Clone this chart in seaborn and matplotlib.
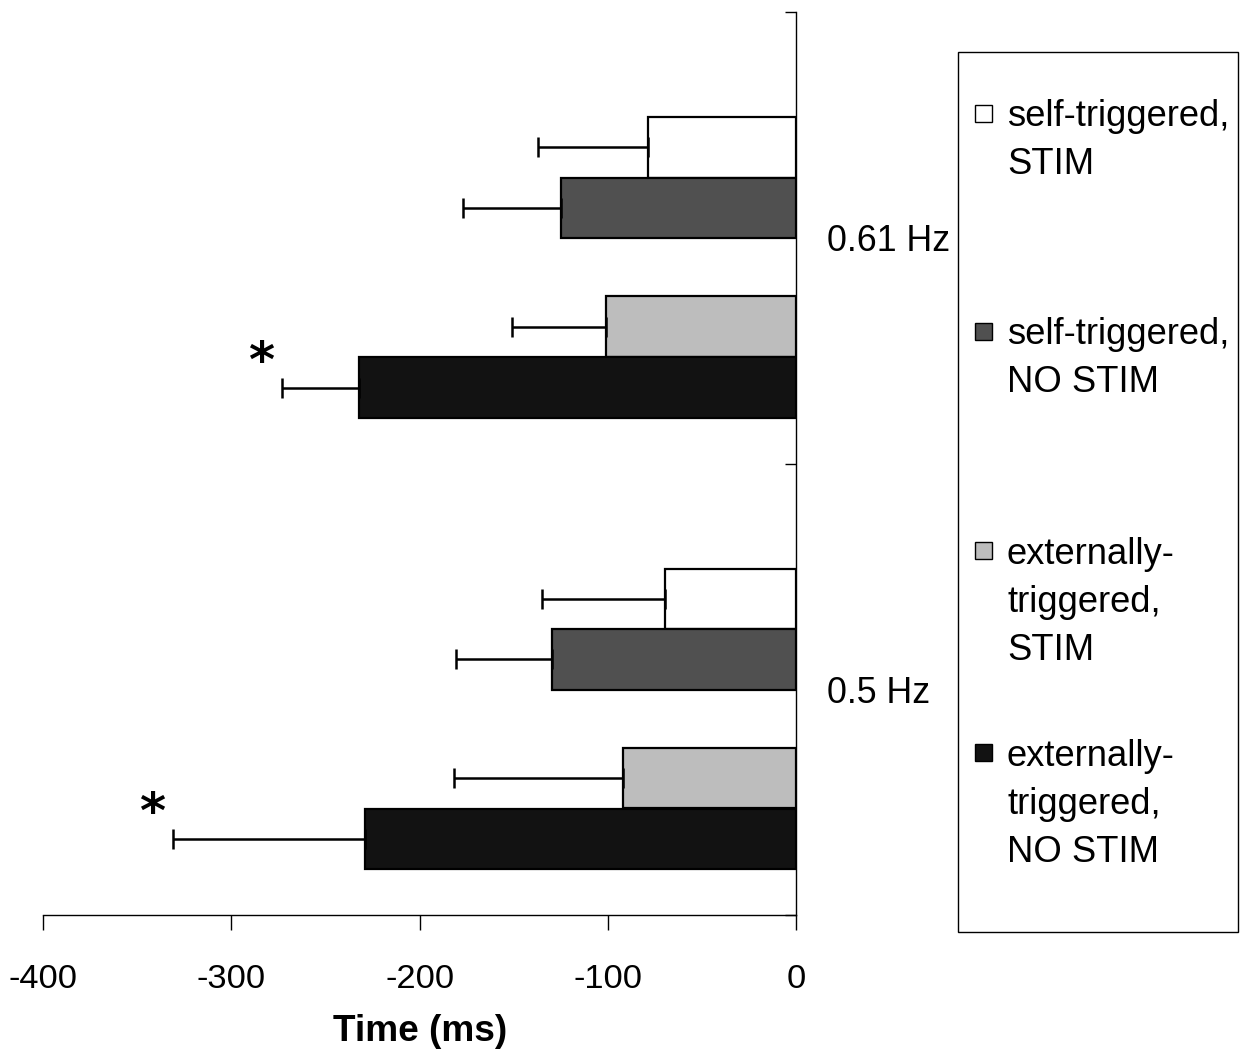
import numpy as np
import pandas as pd
import matplotlib
matplotlib.use("Agg")
import matplotlib.pyplot as plt
from matplotlib import font_manager
from matplotlib.patches import Rectangle
import seaborn as sns

# ---- data -------------------------------------------------------------
frequencies = ["0.61 Hz", "0.5 Hz"]
conditions = [
    "self-triggered, STIM",
    "self-triggered, NO STIM",
    "externally-triggered, STIM",
    "externally-triggered, NO STIM",
]
legend_labels = [
    "self-triggered,\nSTIM",
    "self-triggered,\nNO STIM",
    "externally-\ntriggered,\nSTIM",
    "externally-\ntriggered,\nNO STIM",
]
mean_061 = [-79, -125, -101, -232]
err_061 = [58, 52, 50, 41]
mean_05 = [-70, -130, -92, -229]
err_05 = [65, 51, 90, 102]
significant_061 = [False, False, False, True]
significant_05 = [False, False, False, True]
x_ticks = [-400, -300, -200, -100, 0]

# ---- styling ----------------------------------------------------------
bar_colors = ["#ffffff", "#505050", "#bdbdbd", "#121212"]
palette = dict(zip(conditions, bar_colors))
# offset of each bar inside its frequency band (band height = 1)
slot_offsets = [-0.200, -0.066, 0.197, 0.332]

sns.set_theme(style="white")
available = {f.name for f in font_manager.fontManager.ttflist}
if "Liberation Sans Narrow" in available:
    FONT, k = "Liberation Sans Narrow", 1.0
else:
    FONT, k = "Liberation Sans", 0.92
plt.rcParams["font.family"] = [FONT, "DejaVu Sans"]
plt.rcParams.update({
    "text.color": "black",
    "axes.labelcolor": "black",
    "xtick.color": "black",
    "ytick.color": "black",
})

rows = []
for g, (means, errs, sig) in enumerate(
    [(mean_061, err_061, significant_061), (mean_05, err_05, significant_05)]
):
    for c, cond in enumerate(conditions):
        rows.append(
            dict(freq=frequencies[g], condition=cond, value=means[c],
                 err=errs[c], sig=sig[c], pos=g + slot_offsets[c])
        )
df = pd.DataFrame(rows)

fig = plt.figure(figsize=(12.41, 10.57), dpi=100)
ax = fig.add_axes([0.0347, 0.1343, 0.6071, 0.8543])

sns.barplot(
    data=df, x="value", y="pos", hue="condition", hue_order=conditions,
    palette=palette, orient="h", native_scale=True, width=1.0,
    errorbar=None, edgecolor="black", linewidth=1.6, legend=False,
    saturation=1.0, ax=ax,
)

# one-sided error bars (toward more negative values)
ax.errorbar(
    df["value"], df["pos"], xerr=[df["err"], np.zeros(len(df))],
    fmt="none", ecolor="black", elinewidth=1.8, capsize=7, capthick=1.8,
    zorder=3,
)

# significance markers
for _, r in df[df["sig"]].iterrows():
    ax.text(r["value"] - r["err"] - 11, r["pos"] - 0.055, "*",
            fontsize=36, fontweight="bold", ha="center", va="center",
            family="DejaVu Sans", color="black")

# ---- axes -------------------------------------------------------------
ax.set_xlim(-400, 0)
ax.set_ylim(1.5, -0.5)
ax.set_xticks(x_ticks)
ax.set_xticklabels([str(t) for t in x_ticks], fontsize=27 * k)
ax.tick_params(axis="x", direction="out", length=11, width=1.0,
               pad=24, colors="black", bottom=True)
ax.set_xlabel("Time (ms)", fontsize=29 * k, fontweight="bold", labelpad=14)

ax.yaxis.tick_right()
ax.set_yticks([0, 1])
ax.set_yticklabels(frequencies, fontsize=28 * k)
ax.set_yticks([-0.5, 0.5, 1.5], minor=True)
ax.tick_params(axis="y", which="major", length=0, pad=22, right=True,
               left=False)
ax.tick_params(axis="y", which="minor", direction="in", length=8,
               width=1.0, right=True, left=False)
ax.set_ylabel("")

for side in ["left", "top"]:
    ax.spines[side].set_visible(False)
for side in ["right", "bottom"]:
    ax.spines[side].set_visible(True)
    ax.spines[side].set_color("black")
    ax.spines[side].set_linewidth(1.0)
ax.grid(False)

# ---- legend box -------------------------------------------------------
lx0, lx1 = 958 / 1241, 1238 / 1241
ly0, ly1 = 1 - 932 / 1057, 1 - 52 / 1057
fig.patches.append(Rectangle((lx0, ly0), lx1 - lx0, ly1 - ly0,
                             transform=fig.transFigure, fill=False,
                             edgecolor="black", linewidth=1.0))
entry_centers = [137, 355, 598, 800]   # vertical centre of each entry (px)
line_pitch = 48
sq = 17
for color, label, yc in zip(bar_colors, legend_labels, entry_centers):
    n = label.count("\n") + 1
    first_line = yc - (n - 1) * line_pitch / 2
    fig.patches.append(Rectangle(
        (975 / 1241, 1 - (first_line + sq / 2) / 1057), sq / 1241, sq / 1057,
        transform=fig.transFigure, facecolor=color, edgecolor="black",
        linewidth=1.0))
    for i, line in enumerate(label.split("\n")):
        fig.text(1007 / 1241, 1 - (first_line + i * line_pitch) / 1057, line,
                 fontsize=28.5 * k, ha="left", va="center_baseline")

fig.savefig("out.png", dpi=100, facecolor="white")
